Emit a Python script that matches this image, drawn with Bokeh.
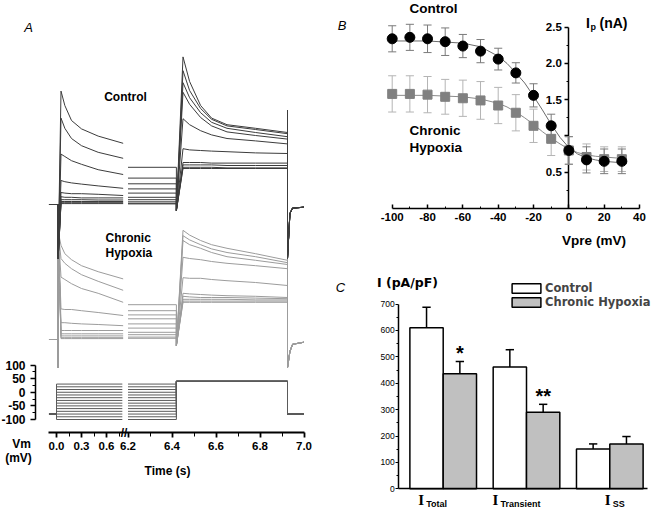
import numpy as np
from bokeh.plotting import figure
from bokeh.models import Range1d, FixedTicker, Label, Legend, LegendItem
from bokeh.layouts import row, column
from bokeh.core.properties import value
from bokeh.embed import file_html
from bokeh.resources import INLINE

# ======================= DATA =======================
# ---- Panel A: voltage protocol (mV) and timing (s)
holding_mv = -80
prepulse_mv = [-100, -90, -80, -70, -60, -50, -40, -30, -20, -10, 0, 10, 20, 30]
test_mv = 40
t_start, t_pre_shown_end, t_resume = -0.09, 0.79, 6.2
t_test_on, t_test_off, t_end = 6.42, 6.925, 7.0

time_major = [0.0, 0.3, 0.6, 6.2, 6.4, 6.6, 6.8, 7.0]
time_labels = ["0.0", "0.3", "0.6", "6.2", "6.4", "6.6", "6.8", "7.0"]
time_minor = [0.15, 0.45, 0.75, 6.3, 6.5, 6.7, 6.9]
vm_ticks = [-100, -50, 0, 50, 100]
vm_labels = ["-100", "-50", "0", "50", "100"]
vm_minor = [-75, -25, 25, 75]

# ---- Panel A: current traces (nA)
pre_times = [0.054, 0.1, 0.18, 0.3, 0.5, 0.8]
test_times = [6.45, 6.48, 6.53, 6.58, 6.65, 6.78, 6.925]
tail_times = [6.936, 6.948, 7.0]

ctrl_pre_na = [
    [1.89, 1.65, 1.40, 1.26, 1.14, 1.02],
    [1.44, 1.27, 1.10, 0.98, 0.87, 0.77],
    [0.84, 0.80, 0.73, 0.67, 0.58, 0.50],
    [0.40, 0.38, 0.36, 0.34, 0.31, 0.27],
    [0.20, 0.19, 0.18, 0.18, 0.17, 0.15],
    [0.13, 0.12, 0.12, 0.11, 0.11, 0.11],
    [0.08, 0.08, 0.08, 0.08, 0.075, 0.075],
    [0.05, 0.05, 0.05, 0.05, 0.05, 0.05],
    [0.03, 0.03, 0.03, 0.03, 0.03, 0.03],
    [0.015, 0.015, 0.015, 0.015, 0.015, 0.015],
]
ctrl_late_na = [0.62, 0.44, 0.345, 0.26, 0.19, 0.12, 0.08, 0.045, 0.02, 0.01]
ctrl_test_na = [
    [0.60, 0.60, 0.60, 0.60, 0.60, 0.60, 0.60],
    [0.62, 0.62, 0.62, 0.62, 0.61, 0.61, 0.61],
    [0.66, 0.66, 0.66, 0.66, 0.65, 0.65, 0.65],
    [0.70, 0.70, 0.70, 0.69, 0.69, 0.69, 0.69],
    [0.93, 0.91, 0.90, 0.89, 0.88, 0.86, 0.85],
    [1.43, 1.33, 1.23, 1.16, 1.10, 1.06, 1.01],
    [1.87, 1.67, 1.45, 1.31, 1.21, 1.15, 1.09],
    [2.03, 1.78, 1.53, 1.37, 1.27, 1.20, 1.13],
    [2.23, 1.90, 1.60, 1.42, 1.31, 1.25, 1.18],
    [2.46, 2.05, 1.65, 1.44, 1.33, 1.27, 1.20],
]
ctrl_onset_art = [-0.9]
ctrl_test_art = [-0.1]
ctrl_off_art = [1.57, -0.9]
ctrl_tail_na = [-0.15, -0.06, -0.045]

hyp_pre_na = [
    [1.57, 1.43, 1.33, 1.23, 1.13, 1.01],
    [1.35, 1.27, 1.18, 1.08, 0.97, 0.82],
    [1.04, 1.00, 0.93, 0.85, 0.77, 0.62],
    [0.51, 0.50, 0.50, 0.48, 0.45, 0.40],
    [0.28, 0.28, 0.27, 0.26, 0.25, 0.23],
    [0.15, 0.15, 0.15, 0.15, 0.15, 0.15],
    [0.095, 0.095, 0.095, 0.095, 0.095, 0.095],
    [0.06, 0.06, 0.06, 0.06, 0.06, 0.06],
    [0.03, 0.03, 0.03, 0.03, 0.03, 0.03],
    [0.015, 0.015, 0.015, 0.015, 0.015, 0.015],
]
hyp_late_na = [0.58, 0.48, 0.41, 0.345, 0.26, 0.19, 0.12, 0.08, 0.04, 0.02]
hyp_test_na = [
    [0.62, 0.62, 0.62, 0.62, 0.62, 0.62, 0.62],
    [0.64, 0.64, 0.64, 0.64, 0.64, 0.64, 0.64],
    [0.67, 0.67, 0.67, 0.67, 0.67, 0.66, 0.66],
    [0.72, 0.71, 0.70, 0.70, 0.70, 0.69, 0.68],
    [0.77, 0.76, 0.75, 0.74, 0.73, 0.72, 0.70],
    [1.03, 1.02, 1.02, 1.00, 0.98, 0.95, 0.90],
    [1.37, 1.35, 1.33, 1.30, 1.27, 1.23, 1.18],
    [1.65, 1.58, 1.52, 1.45, 1.38, 1.32, 1.25],
    [1.73, 1.66, 1.58, 1.51, 1.45, 1.38, 1.28],
    [1.82, 1.74, 1.65, 1.58, 1.52, 1.43, 1.32],
]
hyp_onset_art = [-0.47, 1.8]
hyp_test_art = [-0.1]
hyp_off_art = [1.8, -0.47]
hyp_tail_na = [-0.2, -0.08, -0.045]

# ---- Panel B: peak current vs prepulse potential
vpre_mv = [-100, -90, -80, -70, -60, -50, -40, -30, -20, -10, 0, 10, 20, 30]
ctrl_ip = [2.34, 2.36, 2.34, 2.30, 2.24, 2.17, 2.06, 1.87, 1.56, 1.14, 0.80, 0.67, 0.65, 0.65]
ctrl_ip_err = [0.18, 0.18, 0.19, 0.19, 0.16, 0.16, 0.15, 0.14, 0.16, 0.16, 0.19, 0.18, 0.17, 0.17]
hyp_ip = [1.58, 1.58, 1.57, 1.54, 1.52, 1.49, 1.42, 1.32, 1.14, 0.96, 0.80, 0.71, 0.68, 0.68]
hyp_ip_err = [0.25, 0.25, 0.25, 0.24, 0.25, 0.26, 0.25, 0.25, 0.23, 0.23, 0.19, 0.18, 0.17, 0.17]
fit_v = [-100, -80, -60, -50, -40, -35, -30, -25, -20, -15, -10, -5, 0, 5, 10, 15, 20, 30]
ctrl_fit = [2.31, 2.31, 2.28, 2.23, 2.10, 2.00, 1.87, 1.73, 1.55, 1.36, 1.16, 0.98, 0.84, 0.75, 0.70, 0.67, 0.65, 0.63]
hyp_fit = [1.56, 1.56, 1.54, 1.51, 1.45, 1.40, 1.33, 1.25, 1.16, 1.06, 0.97, 0.89, 0.82, 0.77, 0.74, 0.72, 0.71, 0.69]
b_xticks = [-100, -80, -60, -40, -20, 0, 20, 40]
b_xminor = [-90, -70, -50, -30, -10, 10, 30]
b_yticks = [0.5, 1.0, 1.5, 2.0, 2.5]
b_ylabels = ["0.5", "", "1.5", "2.0", "2.5"]
b_yminor = [0.25, 0.75, 1.25, 1.75, 2.25]

# ---- Panel C: current density (pA/pF)
measures = ["Total", "Transient", "SS"]
ctrl_density = [610, 461, 151]
ctrl_density_sem = [78, 66, 19]
hyp_density = [436, 290, 170]
hyp_density_sem = [46, 30, 28]
significance = ["*", "**", ""]
c_yticks = [0, 100, 200, 300, 400, 500, 600, 700]
c_yminor = [50, 150, 250, 350, 450, 550, 650]

# ======================= STYLE / LAYOUT =======================
SANS = "Liberation Sans"
CTRL_TRACE = "#3c3c3c"
HYP_TRACE = "#9c9c9c"
VM_COLOR = "#5a5a5a"


def tu(t):
    """broken time axis: 0-0.8 s compressed, 6.2-7.0 s at full scale"""
    return 5.875 + 0.37879 * t if t < 3 else t


def label(p, x, y, text, size, style="bold", align="center", baseline="middle",
          font=SANS, color="black"):
    p.add_layout(Label(x=x, y=y, text=text, text_font=font, text_font_size=size,
                       text_font_style=style, text_align=align,
                       text_baseline=baseline, text_color=color))


def make_fig(w, h, xr, yr):
    p = figure(width=w, height=h, x_range=xr, y_range=yr, output_backend="svg",
               toolbar_location=None, min_border_left=0, min_border_right=0,
               min_border_top=0, min_border_bottom=0)
    p.grid.visible = False
    p.outline_line_color = None
    p.background_fill_color = None
    p.border_fill_color = None
    return p


def style_axis(ax, size, width=1.5):
    ax.axis_line_width = width
    ax.major_tick_line_width = width
    ax.minor_tick_line_width = 1
    ax.major_label_text_font = SANS
    ax.major_label_text_font_style = "bold"
    ax.major_label_text_font_size = size
    ax.major_label_text_color = "black"
    ax.axis_line_color = "black"
    ax.major_tick_line_color = "black"
    ax.minor_tick_line_color = "black"


# ------------------------------ Panel A ------------------------------
# page-pixel -> data helpers (placement of annotations / ranges only)
def a_x(px):
    return 6.2 + (px - 127.5) / 220.0


def a_y(py):
    return (391.75 - py) / 0.2725


pA = make_fig(320, 512, Range1d(a_x(0), a_x(320)), Range1d(a_y(512), a_y(0)))
pA.extra_y_ranges = {"ctrl": Range1d((204 - 512) / 60.0, 204 / 60.0),
                     "hyp": Range1d((339 - 512) / 60.0, 339 / 60.0)}

xa = pA.xaxis[0]
style_axis(xa, "11.5px", 1.8)
xa.fixed_location = a_y(432)
xa.ticker = FixedTicker(ticks=[tu(t) for t in time_major],
                        minor_ticks=[tu(t) for t in time_minor])
xa.major_label_overrides = {tu(t): s for t, s in zip(time_major, time_labels)}
xa.bounds = (tu(t_start), tu(t_end))
xa.major_tick_out = 5
xa.major_tick_in = 0
xa.minor_tick_out = 4
xa.minor_tick_in = 0
xa.major_label_standoff = 4

ya = pA.yaxis[0]
style_axis(ya, "12px", 1.5)
ya.fixed_location = a_x(35)
ya.ticker = FixedTicker(ticks=vm_ticks, minor_ticks=vm_minor)
ya.major_label_overrides = dict(zip(vm_ticks, vm_labels))
ya.bounds = (-100, 100)
ya.major_tick_out = 5
ya.major_tick_in = 0
ya.minor_tick_out = 3
ya.minor_tick_in = 0
ya.major_label_standoff = 5

# voltage protocol
vm_xs, vm_ys = [], []
for v in prepulse_mv:
    vm_xs.append([tu(t) for t in [t_start, 0.0, 0.0, t_pre_shown_end]])
    vm_ys.append([holding_mv, holding_mv, v, v])
    vm_xs.append([tu(t) for t in [t_resume, t_test_on, t_test_on, t_test_off, t_test_off, t_end]])
    vm_ys.append([v, v, test_mv, test_mv, holding_mv, holding_mv])
pA.multi_line(vm_xs, vm_ys, line_color=VM_COLOR, line_width=1)


def build_traces(pre, late, test, onset_art, test_art, off_art, tail):
    xs, ys = [], []
    for i in range(len(pre)):
        t1 = [t_start, 0.02] + [0.02] * len(onset_art) + pre_times
        y1 = [0, 0] + onset_art + pre[i]
        t2 = [t_resume, t_test_on] + [t_test_on] * len(test_art) + test_times \
            + [t_test_off] * len(off_art) + tail_times
        y2 = [late[i], late[i]] + test_art + test[i] + off_art + tail
        xs.append([tu(t) for t in t1])
        ys.append(y1)
        xs.append([tu(t) for t in t2])
        ys.append(y2)
    return xs, ys


hx, hy = build_traces(hyp_pre_na, hyp_late_na, hyp_test_na, hyp_onset_art,
                      hyp_test_art, hyp_off_art, hyp_tail_na)
pA.multi_line(hx, hy, y_range_name="hyp", line_color=HYP_TRACE, line_width=1)
cx_, cy_ = build_traces(ctrl_pre_na, ctrl_late_na, ctrl_test_na, ctrl_onset_art,
                        ctrl_test_art, ctrl_off_art, ctrl_tail_na)
pA.multi_line(cx_, cy_, y_range_name="ctrl", line_color=CTRL_TRACE, line_width=1)

label(pA, a_x(28), a_y(27), "A", "13px", style="italic")
label(pA, a_x(125), a_y(96), "Control", "12px")
label(pA, a_x(105), a_y(237), "Chronic", "12px", align="left")
label(pA, a_x(105), a_y(252), "Hypoxia", "12px", align="left")
label(pA, a_x(21), a_y(443), "Vm", "12px")
label(pA, a_x(18), a_y(457), "(mV)", "12px")
label(pA, a_x(167), a_y(470.5), "Time (s)", "12px")
label(pA, a_x(123.5), a_y(432), "//", "12px", style="bold")

# ------------------------------ Panel B ------------------------------
def b_x(px):
    return -100 + (px - 391.7) / 1.7665


def b_y(py):
    return (207.95 - py) / 72.5


pB = make_fig(336, 252, Range1d(b_x(320), b_x(656)), Range1d(b_y(252), b_y(0)))

bx = pB.xaxis[0]
style_axis(bx, "11.5px", 1.5)
bx.fixed_location = 0
bx.ticker = FixedTicker(ticks=b_xticks, minor_ticks=b_xminor)
bx.major_label_overrides = {v: str(v) for v in b_xticks}
bx.bounds = (-100, 40)
bx.major_tick_in = 4
bx.major_tick_out = 0
bx.minor_tick_in = 2
bx.minor_tick_out = 0
bx.major_label_standoff = 5

by = pB.yaxis[0]
style_axis(by, "11.5px", 1.5)
by.fixed_location = 0
by.ticker = FixedTicker(ticks=b_yticks, minor_ticks=b_yminor)
by.major_label_overrides = dict(zip(b_yticks, b_ylabels))
by.bounds = (0, 2.5)
by.major_tick_out = 4
by.major_tick_in = 0
by.minor_tick_out = 2
by.minor_tick_in = 0
by.major_label_standoff = 3
by.level = "underlay"

CAP = 2.3
h_lo = [m - e for m, e in zip(hyp_ip, hyp_ip_err)]
h_hi = [m + e for m, e in zip(hyp_ip, hyp_ip_err)]
c_lo = [m - e for m, e in zip(ctrl_ip, ctrl_ip_err)]
c_hi = [m + e for m, e in zip(ctrl_ip, ctrl_ip_err)]
for lo, hi, col in [(h_lo, h_hi, "#b4b4b4"), (c_lo, c_hi, "#7a7a7a")]:
    pB.segment(vpre_mv, lo, vpre_mv, hi, line_color=col, line_width=1)
    pB.segment([v - CAP for v in vpre_mv], lo, [v + CAP for v in vpre_mv], lo,
               line_color=col, line_width=1)
    pB.segment([v - CAP for v in vpre_mv], hi, [v + CAP for v in vpre_mv], hi,
               line_color=col, line_width=1)
pB.line(fit_v, hyp_fit, line_color="#8a8a8a", line_width=1)
pB.line(fit_v, ctrl_fit, line_color="#6a6a6a", line_width=1)
pB.scatter(vpre_mv, hyp_ip, marker="square", size=9, fill_color="#808080",
           line_color="#808080")
pB.scatter(vpre_mv, ctrl_ip, marker="circle", size=10, fill_color="black",
           line_color="black")

label(pB, b_x(341.7), b_y(25), "B", "13px", style="italic")
label(pB, b_x(433), b_y(7.5), "Control", "13.5px")
label(pB, b_x(409), b_y(130), "Chronic", "13.5px", align="left")
label(pB, b_x(409), b_y(147), "Hypoxia", "13.5px", align="left")
label(pB, b_x(585.5), b_y(22), "I", "14px", align="left")
label(pB, b_x(590), b_y(26.5), "p", "9px", align="left")
label(pB, b_x(599), b_y(22), "(nA)", "14px", align="left")
label(pB, b_x(593.5), b_y(239.5), "Vpre (mV)", "13.5px")

# ------------------------------ Panel C ------------------------------
def c_x(px):
    return 1 + (px - 442.7) / 83.3


def c_y(py):
    return (488.3 - py) / 0.264


pC = make_fig(336, 260, Range1d(c_x(320), c_x(656)), Range1d(c_y(512), c_y(252)))

cxa = pC.xaxis[0]
style_axis(cxa, "8px", 1.5)
cxa.fixed_location = 0
cxa.bounds = (c_x(398.3), c_x(647))
cxa.ticker = FixedTicker(ticks=[], minor_ticks=[])
cxa.major_tick_out = 0
cxa.major_tick_in = 0
cxa.minor_tick_out = 0
cxa.minor_tick_in = 0

cya = pC.yaxis[0]
style_axis(cya, "8.5px", 1.5)
cya.fixed_location = c_x(398.3)
cya.major_label_text_font_style = "normal"
cya.ticker = FixedTicker(ticks=c_yticks, minor_ticks=c_yminor)
cya.bounds = (0, 700)
cya.major_tick_out = 3
cya.major_tick_in = 0
cya.minor_tick_out = 2
cya.minor_tick_in = 0
cya.major_tick_line_width = 1
cya.major_label_standoff = 1

BAR_W = 0.4
group = [i + 1 for i in range(len(measures))]
x_ctrl = [g - BAR_W / 2 for g in group]
x_hyp = [g + BAR_W / 2 for g in group]
r_ctrl = pC.vbar(x=x_ctrl, top=ctrl_density, width=BAR_W, bottom=0,
                 fill_color="white", line_color="black", line_width=1.5)
r_hyp = pC.vbar(x=x_hyp, top=hyp_density, width=BAR_W, bottom=0,
                fill_color="#c0c0c0", line_color="black", line_width=1.5)
ECAP = 0.05
for xs, m, e in [(x_ctrl, ctrl_density, ctrl_density_sem),
                 (x_hyp, hyp_density, hyp_density_sem)]:
    tops = [a + b for a, b in zip(m, e)]
    pC.segment(xs, m, xs, tops, line_color="black", line_width=1.5)
    pC.segment([x - ECAP for x in xs], tops, [x + ECAP for x in xs], tops,
               line_color="black", line_width=1.5)
ast_y = [m + e + 55 for m, e in zip(hyp_density, hyp_density_sem)]
pC.text(x=x_hyp, y=ast_y, text=significance, text_font=value(SANS),
        text_font_style="bold", text_font_size="20px", text_align="center",
        text_baseline="middle", y_offset=6, text_color="black")

legend = Legend(items=[LegendItem(label="Control", renderers=[r_ctrl]),
                       LegendItem(label="Chronic Hypoxia", renderers=[r_hyp])],
                location=(188, 203), orientation="vertical",
                glyph_width=36, glyph_height=12, label_standoff=1,
                label_height=14, spacing=0, padding=0, margin=0,
                label_text_font="DejaVu Sans", label_text_font_style="bold",
                label_text_font_size="11.5px", border_line_color=None,
                background_fill_alpha=0)
pC.add_layout(legend)

label(pC, c_x(340), c_y(287), "C", "13px", style="italic")
label(pC, c_x(407), c_y(282), "I (pA/pF)", "12.5px", font="DejaVu Sans")
i_left_dx = [-25, -34, -5]
for g, name, dx in zip(group, measures, i_left_dx):
    label(pC, g + dx / 83.3, c_y(499), "I", "15px", align="left",
          font="Liberation Serif")
    label(pC, g + (dx + 8) / 83.3, c_y(503), name, "9px", align="left")

layout = row(pA, column(pB, pC))
open("out.html", "w").write(file_html(layout, INLINE))
